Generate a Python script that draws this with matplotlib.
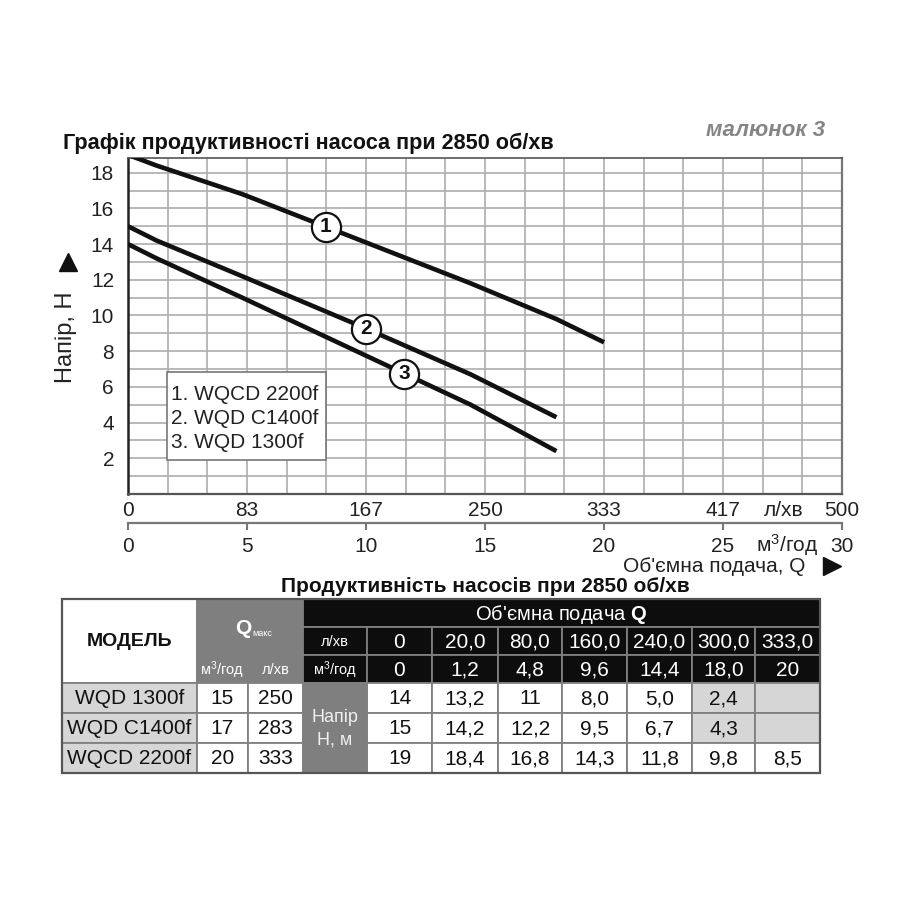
import numpy as np
import matplotlib
matplotlib.use('Agg')
import matplotlib.pyplot as plt
from matplotlib.patches import Rectangle

plt.rcParams['font.family'] = ['Liberation Sans', 'DejaVu Sans']
plt.rcParams['mathtext.fontset'] = 'custom'
plt.rcParams['mathtext.rm'] = 'Liberation Sans'
plt.rcParams['mathtext.bf'] = 'Liberation Sans:bold'
plt.rcParams['mathtext.it'] = 'Liberation Sans:italic'

# ---------------- data ----------------
q_lmin_labels = ['0', '20,0', '80,0', '160,0', '240,0', '300,0', '333,0']
q_m3h = [0, 1.2, 4.8, 9.6, 14.4, 18.0, 20]
q_m3h_labels = ['0', '1,2', '4,8', '9,6', '14,4', '18,0', '20']

models = ['WQD 1300f', 'WQD C1400f', 'WQCD 2200f']
qmax_m3h = ['15', '17', '20']
qmax_lmin = ['250', '283', '333']

head_1300 = [14, 13.2, 11, 8.0, 5.0, 2.4]
head_c1400 = [15, 14.2, 12.2, 9.5, 6.7, 4.3]
head_2200 = [19, 18.4, 16.8, 14.3, 11.8, 9.8, 8.5]
head_labels = [
    ['14', '13,2', '11', '8,0', '5,0', '2,4', ''],
    ['15', '14,2', '12,2', '9,5', '6,7', '4,3', ''],
    ['19', '18,4', '16,8', '14,3', '11,8', '9,8', '8,5'],
]

legend_lines = ['1. WQCD 2200f', '2. WQD C1400f', '3. WQD 1300f']
curve_ids = ['1', '2', '3']
curve_heads = [head_2200, head_c1400, head_1300]
label_q = [8.3, 10.0, 11.6]

xtick_vals = [0, 5, 10, 15, 20, 25, 30]
xtick_lmin = ['0', '83', '167', '250', '333', '417', '500']
xtick_m3h = ['0', '5', '10', '15', '20', '25', '30']
ytick_vals = [2, 4, 6, 8, 10, 12, 14, 16, 18]

# ---------------- figure ----------------
fig = plt.figure(figsize=(9, 9), dpi=100)
W = H = 900.0

def fx(x):
    return x / W

def fy(y):
    return 1 - y / H

AX_L, AX_R, AX_T, AX_B = 128, 842, 158, 494
ax = fig.add_axes([fx(AX_L), fy(AX_B), (AX_R - AX_L) / W, (AX_B - AX_T) / H])
ax.set_xlim(0, 30)
ax.set_ylim(0, (AX_B - AX_T) / 17.85)

gx = np.arange(19) * 30 / 18
labels_x = []
for v in gx:
    r = int(round(v))
    if abs(v - r) < 1e-6 and r in xtick_vals:
        labels_x.append(xtick_lmin[xtick_vals.index(r)])
    else:
        labels_x.append('')
ax.set_xticks(gx)
ax.set_xticklabels(labels_x)
gy = np.arange(0, 19)
ax.set_yticks(gy)
ax.set_yticklabels([str(v) if v in ytick_vals else '' for v in gy])
ax.tick_params(axis='both', length=0, labelsize=15, labelcolor='#222222')
ax.tick_params(axis='x', pad=5)
ax.tick_params(axis='y', pad=10)
ax.grid(True, color='#adadad', lw=1.2)
ax.set_axisbelow(True)
ax.spines['left'].set_color('#222222')
ax.spines['left'].set_linewidth(1.8)
ax.spines['bottom'].set_color('#555555')
ax.spines['bottom'].set_linewidth(1.6)
ax.spines['right'].set_color('#777777')
ax.spines['right'].set_linewidth(1.6)
ax.spines['top'].set_color('#555555')
ax.spines['top'].set_linewidth(1.2)

for cid, heads, lq in zip(curve_ids, curve_heads, label_q):
    xs = q_m3h[:len(heads)]
    ax.plot(xs, heads, color='#111111', lw=3.3, solid_capstyle='butt', zorder=3)
    yl = np.interp(lq, xs, heads)
    ax.plot([lq], [yl], 'o', ms=21, mfc='white', mec='#111111', mew=1.6, zorder=5)
    ax.text(lq, yl, cid, ha='center', va='center', fontsize=15, fontweight='bold',
            color='#111111', zorder=6)

# secondary (m3/h) axis
ax2 = fig.add_axes([fx(AX_L), fy(523), (AX_R - AX_L) / W, 0.0001])
ax2.set_xlim(0, 30)
ax2.set_xticks(xtick_vals)
ax2.set_xticklabels(xtick_m3h)
ax2.set_yticks([])
for s in ['left', 'right', 'top']:
    ax2.spines[s].set_visible(False)
ax2.spines['bottom'].set_color('#777777')
ax2.spines['bottom'].set_linewidth(1.6)
ax2.tick_params(axis='x', direction='out', length=5, width=1.5, color='#777777',
                labelsize=15, labelcolor='#222222', pad=5)
ax2.patch.set_alpha(0)

# overlay in pixel coordinates
ov = fig.add_axes([0, 0, 1, 1])
ov.set_xlim(0, W)
ov.set_ylim(H, 0)
ov.axis('off')
ov.patch.set_alpha(0)

ov.text(63, 143, 'Графік продуктивності насоса при 2850 об/хв', ha='left', va='center',
        fontsize=15.6, fontweight='bold', color='#111111')
ov.text(825, 131, 'малюнок 3', ha='right', va='center', fontsize=16,
        fontweight='bold', fontstyle='italic', color='#858585')

# axis labels
ov.text(66, 337, 'Напір, Н', rotation=90, ha='center', va='center', fontsize=17, color='#222222')
ov.plot([68], [262], marker='^', ms=13, color='#111111')
ov.text(784, 510, 'л/хв', ha='center', va='center', fontsize=15, color='#222222')
ov.text(787, 545, 'м$^{3}$/год', ha='center', va='center', fontsize=15, color='#222222')
ov.text(805, 566, "Об'ємна подача, Q", ha='right', va='center', fontsize=15, color='#222222')
ov.plot([832], [566], marker='>', ms=13, color='#111111')

# legend box
ov.add_patch(Rectangle((167, 372), 159, 88, facecolor='white', edgecolor='#777777', lw=1.2, zorder=4))
for i, t in enumerate(legend_lines):
    ov.text(171, 395 + i * 23.5, t, ha='left', va='center', fontsize=15, color='#222222', zorder=5)

# ---------------- table ----------------
ov.text(485, 586, 'Продуктивність насосів при 2850 об/хв', ha='center', va='center',
        fontsize=15, fontweight='bold', color='#111111')

colx = [62, 197, 248, 303, 367, 432, 498, 562, 627, 692, 755, 820]
rowy = [599, 627, 655, 683, 713, 743, 773]
EDGE = '#808080'
GRAY = '#7f7f7f'
LIGHT = '#d6d6d6'


def cell(x0, x1, y0, y1, fc, text='', color='#111111', size=15, weight='normal', ec=EDGE):
    ov.add_patch(Rectangle((x0, y0), x1 - x0, y1 - y0, facecolor=fc, edgecolor=ec, lw=1.3))
    if text:
        ov.text((x0 + x1) / 2, (y0 + y1) / 2 + 1, text, ha='center', va='center',
                fontsize=size, fontweight=weight, color=color)


cell(colx[0], colx[1], rowy[0], rowy[3], 'white', 'МОДЕЛЬ', size=14, weight='bold')
cell(colx[1], colx[3], rowy[0], rowy[2], GRAY)
ov.text(243, 629, 'Q', ha='center', va='center', fontsize=15, fontweight='bold', color='white')
ov.text(252, 633, 'макс', ha='left', va='center', fontsize=6.5, color='white')
cell(colx[1], colx[2], rowy[2], rowy[3], GRAY, 'м$^{3}$/год', color='white', size=10.5)
cell(colx[2], colx[3], rowy[2], rowy[3], GRAY, 'л/хв', color='white', size=10.5)
cell(colx[3], colx[-1], rowy[0], rowy[1], '#0d0d0d', "Об'ємна подача $\\mathbf{Q}$", color='white', size=14.5)
cell(colx[3], colx[4], rowy[1], rowy[2], '#0d0d0d', 'л/хв', color='white', size=10.5)
cell(colx[3], colx[4], rowy[2], rowy[3], '#0d0d0d', 'м$^{3}$/год', color='white', size=10.5)
for j in range(len(q_lmin_labels)):
    cell(colx[4 + j], colx[5 + j], rowy[1], rowy[2], '#0d0d0d', q_lmin_labels[j], color='white', size=15)
    cell(colx[4 + j], colx[5 + j], rowy[2], rowy[3], '#0d0d0d', q_m3h_labels[j], color='white', size=15)

for i in range(3):
    y0, y1 = rowy[3 + i], rowy[4 + i]
    cell(colx[0], colx[1], y0, y1, LIGHT, models[i], size=15)
    cell(colx[1], colx[2], y0, y1, 'white', qmax_m3h[i], size=15)
    cell(colx[2], colx[3], y0, y1, 'white', qmax_lmin[i], size=15)
    for j in range(len(head_labels[i])):
        fc = 'white'
        if i < 2 and j >= 5:
            fc = LIGHT
        cell(colx[4 + j], colx[5 + j], y0, y1, fc, head_labels[i][j], size=15)

cell(colx[3], colx[4], rowy[3], rowy[6], GRAY)
ov.text(335, 718, 'Напір', ha='center', va='center', fontsize=13, color='#f0f0f0')
ov.text(335, 740, 'Н, м', ha='center', va='center', fontsize=13, color='#f0f0f0')
ov.add_patch(Rectangle((colx[0], rowy[0]), colx[-1] - colx[0], rowy[-1] - rowy[0],
                       facecolor='none', edgecolor='#555555', lw=1.6))

fig.savefig('out.png', dpi=100)
